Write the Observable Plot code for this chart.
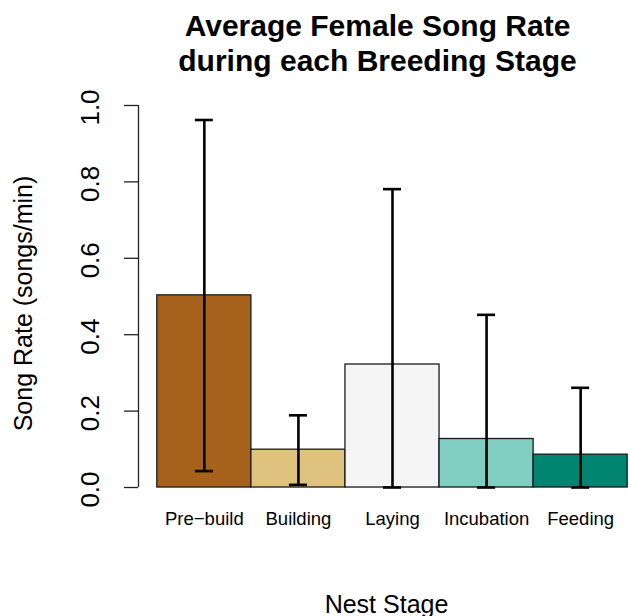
<!DOCTYPE html>
<html>
<head>
<meta charset="utf-8">
<script src="https://cdn.jsdelivr.net/npm/d3@7"></script>
<script src="https://cdn.jsdelivr.net/npm/@observablehq/plot@0.6"></script>
<style>
  html, body { margin: 0; padding: 0; background: white; }
</style>
</head>
<body>
<div id="chart"></div>
<script>
const stages = ["Pre\u2212build", "Building", "Laying", "Incubation", "Feeding"];
const means  = [0.503, 0.099, 0.322, 0.127, 0.086];
const upper  = [0.962, 0.189, 0.781, 0.452, 0.261];
const lower  = [0.043, 0.007, 0.0, 0.0, 0.0];
const colors = ["#A6611A", "#DFC27D", "#F5F5F5", "#80CDC1", "#018571"];
const yTicks = [0, 0.2, 0.4, 0.6, 0.8, 1.0];
const titleLines = ["Average Female Song Rate", "during each Breeding Stage"];
const xLabel = "Nest Stage";
const yLabel = "Song Rate (songs/min)";

const data = stages.map((s, i) => ({i, stage: s, mean: means[i], hi: upper[i], lo: lower[i]}));
const xDomain = [-0.2, stages.length + 0.2];
const font = "'Liberation Sans', Arial, Helvetica, sans-serif";
const fmt = d3.format(".1f");

const chart = Plot.plot({
  width: 630,
  height: 616,
  marginLeft: 138,
  marginRight: 0,
  marginTop: 89.7,
  marginBottom: 113.7,
  style: {fontFamily: font, background: "white", color: "black", overflow: "visible"},
  x: {type: "linear", domain: xDomain, range: [138, 646], axis: null},
  y: {domain: [-0.04, 1.04], axis: null},
  color: {domain: stages, range: colors},
  marks: [
    Plot.rectY(data, {x1: "i", x2: d => d.i + 1, y1: 0, y2: "mean", fill: "stage", stroke: "#1a1a1a", strokeWidth: 1.3}),
    Plot.ruleX(data, {x: d => d.i + 0.5, y1: "lo", y2: "hi", stroke: "black", strokeWidth: 2.6}),
    Plot.ruleY(data, {x1: d => d.i + 0.5, x2: d => d.i + 0.5, y: "hi", insetLeft: -9, insetRight: -9, stroke: "black", strokeWidth: 2.6}),
    Plot.ruleY(data, {x1: d => d.i + 0.5, x2: d => d.i + 0.5, y: "lo", insetLeft: -9, insetRight: -9, stroke: "black", strokeWidth: 2.6}),
    Plot.ruleX([xDomain[0]], {y1: yTicks[0], y2: yTicks[yTicks.length - 1], stroke: "#222", strokeWidth: 1.3}),
    Plot.axisY({ticks: yTicks, tickSize: 14, tickFormat: () => "", stroke: "#222", strokeWidth: 1.3}),
    Plot.text(yTicks, {y: d => d, text: d => fmt(d), frameAnchor: "left", textAnchor: "middle", dx: -48, dy: 2, rotate: -90, fontSize: 26, fill: "black"}),
    Plot.text(data, {x: d => d.i + 0.5, text: "stage", frameAnchor: "bottom", dy: 22.5, fontSize: 18.5, fill: "black"}),
    Plot.text([yLabel], {frameAnchor: "left", textAnchor: "middle", rotate: -90, dx: -115, dy: 7, fontSize: 25, fill: "black"}),
    Plot.text([xLabel], {frameAnchor: "bottom", dx: 2, dy: 92.7, lineAnchor: "top", fontSize: 25, fill: "black"}),
    Plot.text([titleLines.join("\n")], {frameAnchor: "top", dx: -7, dy: -78.5, lineAnchor: "top", lineHeight: 1.15, fontSize: 30, fontWeight: "bold", fill: "black"})
  ]
});
document.getElementById("chart").appendChild(chart);
</script>
</body>
</html>
